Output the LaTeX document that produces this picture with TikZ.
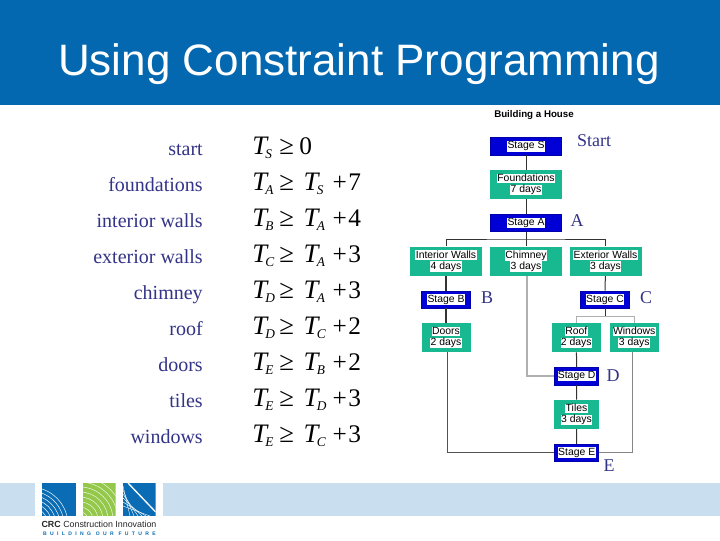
\documentclass[tikz,border=0pt]{standalone}
\usepackage{fontspec}
\setmainfont{Liberation Serif}
\newfontfamily\arialf{Liberation Sans}
\definecolor{hdr}{HTML}{0468B0}
\definecolor{band}{HTML}{C9DEEE}
\definecolor{stageblue}{HTML}{0000D6}
\definecolor{taskgreen}{HTML}{18B990}
\definecolor{note}{HTML}{333388}
\definecolor{lineD}{HTML}{333333}
\definecolor{lineG}{HTML}{B0B0B0}
\definecolor{logoB}{HTML}{0A6CB4}
\definecolor{logoG}{HTML}{94C84A}
\newcommand{\hlt}[1]{{\setlength{\fboxsep}{0.3pt}\colorbox{white}{\rule[-1pt]{0pt}{6.6pt}#1}}}
\newcommand{\TT}[1]{{\fontsize{20}{20}\selectfont\textit{T}}\kern-2.4pt\raisebox{-3.4pt}{\fontsize{10}{10}\selectfont\textit{#1}}}
\newcommand{\GEQ}{{\fontsize{20}{20}\selectfont ≥}}
\newcommand{\PLS}{{\fontsize{19}{19}\selectfont +}}
\newcommand{\eqnrow}[3]{\makebox[20.25pt][l]{\TT{#1}}\makebox[18.25pt][l]{\GEQ}\makebox[21.75pt][l]{\TT{#2}}\makebox[11.75pt][l]{\PLS}#3}
\tikzset{
 x=0.75pt,y=-0.75pt,
 boxbase/.style={inner sep=0pt,align=center,font=\arialf\fontsize{7.8}{8.25}\selectfont},
 stagebox/.style={boxbase,fill=stageblue,draw=stageblue!80!black,line width=0.4pt,minimum height=12.9pt},
 taskbox/.style={boxbase,fill=taskgreen,minimum height=21.8pt},
 wdpx/.style={minimum width=#1*0.75pt},
 conn/.style={draw=lineD,line width=0.75pt},
 conng/.style={draw=lineG,line width=0.9pt},
 rowlabel/.style={anchor=base east,font=\fontsize{15}{15}\selectfont,text=note,inner sep=0pt},
 eqn/.style={anchor=base west,font=\fontsize{19}{19}\selectfont,inner sep=0pt},
 annot/.style={font=\fontsize{13.5}{13.5}\selectfont,text=note,inner sep=0pt},
}
\begin{document}
\begin{tikzpicture}
\useasboundingbox (0,0) rectangle (720,540);
\fill[white] (0,0) rectangle (720,540);
\fill[hdr] (0,0) rectangle (720,105);
\fill[band] (0,483) rectangle (35,516);
\fill[band] (163,483) rectangle (720,516);
\node[text=white,font=\arialf\fontsize{33}{33}\selectfont,inner sep=0pt] (title) at (359,64) {Using Constraint Programming};
% left labels
\foreach \n/\t/\y in {l1/start/155,l2/foundations/191,l3/interior walls/227,l4/exterior walls/263,l5/chimney/299,l6/roof/335,l7/doors/371,l8/tiles/407,l9/windows/443}
  \node[rowlabel] (\n) at (203,\y) {\t};
% equations
\node[eqn] (e1) at (252,154) {\makebox[20.25pt][l]{\TT{S}}\makebox[15pt][l]{\GEQ}0};
\node[eqn] (e2) at (252,190) {\eqnrow{A}{S}{7}};
\node[eqn] (e3) at (252,226) {\eqnrow{B}{A}{4}};
\node[eqn] (e4) at (252,262) {\eqnrow{C}{A}{3}};
\node[eqn] (e5) at (252,298) {\eqnrow{D}{A}{3}};
\node[eqn] (e6) at (252,334) {\eqnrow{D}{C}{2}};
\node[eqn] (e7) at (252,370) {\eqnrow{E}{B}{2}};
\node[eqn] (e8) at (252,406) {\eqnrow{E}{D}{3}};
\node[eqn] (e9) at (252,442) {\eqnrow{E}{C}{3}};
% chart
\node[font=\arialf\bfseries\fontsize{7.3}{8}\selectfont,inner sep=0pt] (head) at (534,115) {Building a House};
\node[stagebox,wdpx=71] (S) at (526,146.3) {\hlt{Stage S}};
\node[taskbox,wdpx=71.5] (F) at (526,184.5) {\hlt{Foundations}\\\hlt{7 days}};
\node[stagebox,wdpx=71] (A) at (526,222.8) {\hlt{Stage A}};
\node[taskbox,wdpx=71.5] (In) at (446,261.2) {\hlt{Interior Walls}\\\hlt{4 days}};
\node[taskbox,wdpx=71.5] (Ch) at (526,261.2) {\hlt{Chimney}\\\hlt{3 days}};
\node[taskbox,wdpx=72] (Ex) at (605.5,261.2) {\hlt{Exterior Walls}\\\hlt{3 days}};
\node[stagebox,wdpx=48.5] (B) at (446,299.5) {\hlt{Stage B}};
\node[stagebox,wdpx=49.5] (C) at (605,299.5) {\hlt{Stage C}};
\node[taskbox,wdpx=49] (Dr) at (446,337.5) {\hlt{Doors}\\\hlt{2 days}};
\node[taskbox,wdpx=49.5] (Rf) at (576.3,337.5) {\hlt{Roof}\\\hlt{2 days}};
\node[taskbox,wdpx=49] (Wn) at (634.2,337.5) {\hlt{Windows}\\\hlt{3 days}};
\node[stagebox,wdpx=44] (D) at (576.7,376.2) {\hlt{Stage D}};
\node[taskbox,wdpx=44.5] (Tl) at (576.5,414.3) {\hlt{Tiles}\\\hlt{3 days}};
\node[stagebox,wdpx=44] (E) at (576.7,452.7) {\hlt{Stage E}};
\coordinate (busA) at (526,239);
\coordinate (busC) at (605,316.3);
\draw[conn] (S) -- (F);
\draw[conn] (F) -- (A);
\draw[conn] (A) -- (Ch);
\draw[conn] (In.north) |- (busA) -| (Ex.north);
\draw[conn,line width=1pt] (In) -- (B);
\draw[conn] (Ex) -- (C);
\draw[conn,line width=1.2pt] (B) -- (Dr);
\draw[conn] (C) -- (busC);
\draw[conng] (Rf.north) |- (busC) -| (Wn.north);
\draw[conn] (Rf) -- (D);
\draw[conn] (D) -- (Tl);
\draw[conn] (Tl) -- (E);
\draw[conng,line width=1.3pt] ([xshift=0.8pt]Ch.south) |- (D.west);
\draw[conn,draw=lineD!85!white] ([xshift=1pt]Dr.south) |- (E.west);
\draw[conn,draw=lineD!60!white] ([xshift=-1.4pt]Wn.south) |- (E.east);
% annotations
\node[annot] (tS) at (594,141) {Start};
\node[annot] (tA) at (577,220.5) {A};
\node[annot] (tB) at (487,297.5) {B};
\node[annot] (tC) at (646,298) {C};
\node[annot] (tD) at (613,376) {D};
\node[annot] (tE) at (609,466) {E};
% logo
\begin{scope}
\clip (41.7,483) rectangle (76,516);
\fill[logoB] (41.7,483) rectangle (76,516);
\foreach \r in {14,18,22,26,30,34,38}
  \draw[white,line width=0.35pt] (30,525) circle[radius=\r];
\end{scope}
\begin{scope}
\clip (82.7,483) rectangle (115.7,516);
\fill[logoG] (82.7,483) rectangle (115.7,516);
\foreach \r in {8,13,18,23,28,33,38,43}
  \draw[white!80!logoG,line width=0.4pt] (80,520) circle[radius=\r];
\end{scope}
\begin{scope}
\clip (123,483) rectangle (155.7,516);
\fill[logoB] (123,483) rectangle (155.7,516);
\foreach \x in {126,130,134,138,142,146}
  \draw[white,line width=0.3pt] (123,\x+360) -- (\x+4,516);
\draw[white,line width=1pt] (128,483) -- (155.7,512);
\end{scope}
\node[font=\arialf\fontsize{6.65}{8}\selectfont,inner sep=0pt,text=black!85] (logo1) at (99,524) {\textbf{CRC} Construction Innovation};
\node[font=\arialf\bfseries\fontsize{3.8}{5}\selectfont,inner sep=0pt,text=logoB] (logo2) at (99.5,533.5) {\addfontfeature{LetterSpace=66}BUILDING OUR FUTURE};
\end{tikzpicture}
\end{document}
